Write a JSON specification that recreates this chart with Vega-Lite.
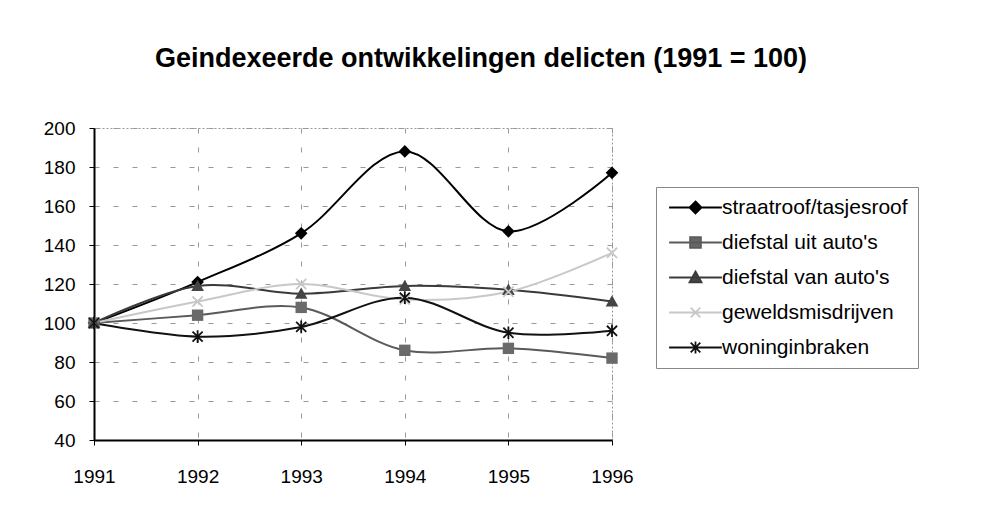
{
  "$schema": "https://vega.github.io/schema/vega-lite/v6.json",
  "autosize": "none",
  "width": 518,
  "height": 312,
  "padding": {"left": 94, "top": 128, "right": 386, "bottom": 83},
  "background": "white",
  "title": {
    "text": "Geindexeerde ontwikkelingen delicten (1991 = 100)",
    "font": "Liberation Sans",
    "fontSize": 27,
    "fontWeight": "bold",
    "color": "#000",
    "anchor": "middle",
    "dx": 128,
    "offset": 46
  },
  "config": {
    "view": {"stroke": "#999", "strokeDash": [2, 2]},
    "axis": {
      "labelFont": "Liberation Sans",
      "labelFontSize": 19,
      "labelColor": "#000",
      "gridColor": "#999",
      "gridDash": [5, 14],
      "gridWidth": 1,
      "domainColor": "#000",
      "domainWidth": 2,
      "tickColor": "#000",
      "tickSize": 5,
      "title": null
    }
  },
  "data": {
    "values": [
      {"series": "straatroof/tasjesroof", "year": 1991, "value": 100},
      {"series": "straatroof/tasjesroof", "year": 1992, "value": 121},
      {"series": "straatroof/tasjesroof", "year": 1993, "value": 146},
      {"series": "straatroof/tasjesroof", "year": 1994, "value": 188},
      {"series": "straatroof/tasjesroof", "year": 1995, "value": 147},
      {"series": "straatroof/tasjesroof", "year": 1996, "value": 177},
      {"series": "diefstal uit auto's", "year": 1991, "value": 100},
      {"series": "diefstal uit auto's", "year": 1992, "value": 104},
      {"series": "diefstal uit auto's", "year": 1993, "value": 108},
      {"series": "diefstal uit auto's", "year": 1994, "value": 86},
      {"series": "diefstal uit auto's", "year": 1995, "value": 87},
      {"series": "diefstal uit auto's", "year": 1996, "value": 82},
      {"series": "diefstal van auto's", "year": 1991, "value": 100},
      {"series": "diefstal van auto's", "year": 1992, "value": 119},
      {"series": "diefstal van auto's", "year": 1993, "value": 115},
      {"series": "diefstal van auto's", "year": 1994, "value": 119},
      {"series": "diefstal van auto's", "year": 1995, "value": 117},
      {"series": "diefstal van auto's", "year": 1996, "value": 111},
      {"series": "geweldsmisdrijven", "year": 1991, "value": 100},
      {"series": "geweldsmisdrijven", "year": 1992, "value": 111},
      {"series": "geweldsmisdrijven", "year": 1993, "value": 120},
      {"series": "geweldsmisdrijven", "year": 1994, "value": 112},
      {"series": "geweldsmisdrijven", "year": 1995, "value": 116},
      {"series": "geweldsmisdrijven", "year": 1996, "value": 136},
      {"series": "woninginbraken", "year": 1991, "value": 100},
      {"series": "woninginbraken", "year": 1992, "value": 93},
      {"series": "woninginbraken", "year": 1993, "value": 98},
      {"series": "woninginbraken", "year": 1994, "value": 113},
      {"series": "woninginbraken", "year": 1995, "value": 95},
      {"series": "woninginbraken", "year": 1996, "value": 96}
    ]
  },
  "encoding": {
    "x": {
      "field": "year",
      "type": "quantitative",
      "scale": {"domain": [1991, 1996], "nice": false, "zero": false},
      "axis": {"values": [1991, 1992, 1993, 1994, 1995, 1996], "format": "d", "labelPadding": 22, "labelFlush": false}
    },
    "y": {
      "field": "value",
      "type": "quantitative",
      "scale": {"domain": [40, 200], "nice": false, "zero": false},
      "axis": {"values": [40, 60, 80, 100, 120, 140, 160, 180, 200], "labelPadding": 14}
    }
  },
  "layer": [
    {
      "mark": {"type": "line", "interpolate": "catmull-rom", "strokeWidth": 2},
      "encoding": {
        "color": {
          "field": "series",
          "type": "nominal",
          "scale": {
            "domain": ["straatroof/tasjesroof", "diefstal uit auto's", "diefstal van auto's", "geweldsmisdrijven", "woninginbraken"],
            "range": ["#000000", "#5a5a5a", "#3a3a3a", "#c8c8c8", "#111111"]
          },
          "legend": {
            "orient": "none",
            "legendX": 562,
            "legendY": 59,
            "title": null,
            "labelFont": "Liberation Sans",
            "labelFontSize": 21,
            "labelColor": "#000",
            "symbolSize": 144,
            "symbolOffset": 19,
            "labelOffset": 16,
            "rowPadding": 13,
            "padding": 10,
            "strokeColor": "#888",
            "fillColor": "white",
            "labelLimit": 300,
            "symbolType": "stroke",
            "symbolStrokeWidth": 1.8,
            "encode": {
              "symbols": {
                "update": {
                  "shape": {"signal": "datum.value === 'straatroof/tasjesroof' ? 'M-4.4,0L4.4,0M0,-1L1,0L0,1L-1,0Z' : datum.value === \"diefstal uit auto's\" ? 'M-4.4,0L4.4,0M-0.9,-0.9L0.9,-0.9L0.9,0.9L-0.9,0.9Z' : datum.value === \"diefstal van auto's\" ? 'M-4.4,0L4.4,0M0,-1L1,0.8L-1,0.8Z' : datum.value === 'geweldsmisdrijven' ? 'M-4.4,0L4.4,0M-0.8,-0.8L0.8,0.8M-0.8,0.8L0.8,-0.8' : 'M-4.4,0L4.4,0M0,-1L0,1M-0.8,-0.8L0.8,0.8M-0.8,0.8L0.8,-0.8'"},
                  "fill": {"signal": "datum.value === 'straatroof/tasjesroof' ? '#000' : datum.value === \"diefstal uit auto's\" ? '#666' : datum.value === \"diefstal van auto's\" ? '#444' : 'transparent'"},
                  "strokeWidth": {"value": 1.8}
                }
              }
            }
          }
        }
      }
    },
    {
      "transform": [{"filter": "datum.series === 'straatroof/tasjesroof'"}],
      "mark": {"type": "point", "shape": "M0,-1L1,0L0,1L-1,0Z", "filled": true, "color": "#000", "size": 160, "opacity": 1}
    },
    {
      "transform": [{"filter": "datum.series === \"diefstal uit auto's\""}],
      "mark": {"type": "point", "shape": "M-0.9,-0.9L0.9,-0.9L0.9,0.9L-0.9,0.9Z", "filled": true, "color": "#6a6a6a", "size": 160, "opacity": 1}
    },
    {
      "transform": [{"filter": "datum.series === \"diefstal van auto's\""}],
      "mark": {"type": "point", "shape": "M0,-1L1,0.8L-1,0.8Z", "filled": true, "color": "#444444", "size": 160, "opacity": 1}
    },
    {
      "transform": [{"filter": "datum.series === 'geweldsmisdrijven'"}],
      "mark": {"type": "point", "shape": "M-0.8,-0.8L0.8,0.8M-0.8,0.8L0.8,-0.8", "filled": false, "color": "#c8c8c8", "strokeWidth": 1.8, "size": 160, "opacity": 1}
    },
    {
      "transform": [{"filter": "datum.series === 'woninginbraken'"}],
      "mark": {"type": "point", "shape": "M0,-1L0,1M-0.8,-0.8L0.8,0.8M-0.8,0.8L0.8,-0.8", "filled": false, "color": "#111111", "strokeWidth": 1.8, "size": 160, "opacity": 1}
    }
  ]
}
